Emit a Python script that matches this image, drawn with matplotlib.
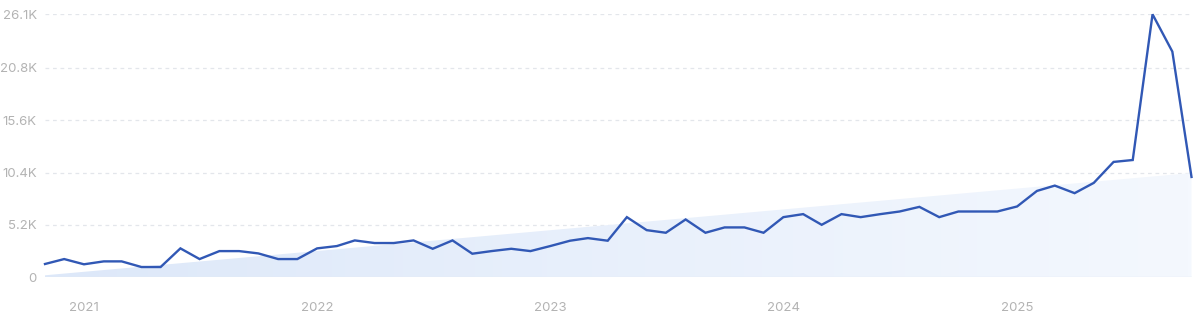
import numpy as np
import pandas as pd
import matplotlib
matplotlib.use("Agg")
import matplotlib.pyplot as plt
import matplotlib.dates as mdates
from matplotlib.colors import LinearSegmentedColormap

# ==============================
# Data
# ==============================

months = pd.date_range("2020-11-01", periods=60, freq="MS")

searches = [
    1320, 1810, 1290, 1580, 1580, 1020, 1020, 2870, 1810, 2600, 2600, 2370, 1810, 1810, 2870,
    3100, 3660, 3400, 3400, 3660, 2830, 3660, 2340, 2600, 2830, 2600, 3100, 3630, 3890, 3630,
    5970, 4680, 4420, 5740, 4420, 4950, 4950, 4420, 5970, 6270, 5210, 6270, 5970, 6270, 6530,
    6990, 5970, 6530, 6530, 6530, 7030, 8570, 9100, 8350, 9370, 11450, 11640, 26100, 22400, 9960,
]

# trend area: value at first and last month
trend_values = [200, 10350]

y_ticks = [0, 5200, 10400, 15600, 20800, 26100]
y_tick_labels = ["0", "5.2K", "10.4K", "15.6K", "20.8K", "26.1K"]

year_ticks = pd.to_datetime(["2021-01-01", "2022-01-01", "2023-01-01", "2024-01-01", "2025-01-01"])
year_labels = ["2021", "2022", "2023", "2024", "2025"]

# ==============================
# Plot
# ==============================

plt.rcParams["font.family"] = ["Inter", "DejaVu Sans"]

fig = plt.figure(figsize=(12, 3.15), dpi=100)
ax = fig.add_axes([45 / 1200, 37.7 / 315, (1191.5 - 45) / 1200, (277.3 - 14.3) / 315])

x = mdates.date2num(months)
ax.set_xlim(x[0], x[-1])
ax.set_ylim(0, y_ticks[-1])

# trend area with a soft horizontal gradient
trend_x = [x[0], x[-1]]
poly = ax.fill_between(trend_x, 0, trend_values, color="none", lw=0)
cmap = LinearSegmentedColormap.from_list("trend", ["#dde8f9", "#f4f8fe"])
grad = np.linspace(0, 1, 256).reshape(1, -1)
img = ax.imshow(grad, cmap=cmap, aspect="auto", extent=[x[0], x[-1], 0, y_ticks[-1]],
                origin="lower", zorder=1)
img.set_clip_path(poly.get_paths()[0], transform=ax.transData)

# grid lines
for yt in y_ticks[1:]:
    ax.axhline(yt, color="#e3e6eb", lw=0.9, dashes=(3, 3), zorder=0)
ax.axhline(0, color="#e4eaf3", lw=1.0, zorder=2)

ax.plot(x, searches, color="#3158b5", lw=1.7, solid_joinstyle="miter", zorder=3, clip_on=False)

for s in ax.spines.values():
    s.set_visible(False)

ax.set_yticks(y_ticks)
ax.set_yticklabels(y_tick_labels)
ax.set_xticks(mdates.date2num(year_ticks))
ax.set_xticklabels(year_labels)
ax.tick_params(axis="both", length=0, labelsize=9.5, labelcolor="#b3b3b3")
ax.tick_params(axis="y", pad=6)
ax.tick_params(axis="x", pad=18)

fig.savefig("out.png", dpi=100, facecolor="white")
